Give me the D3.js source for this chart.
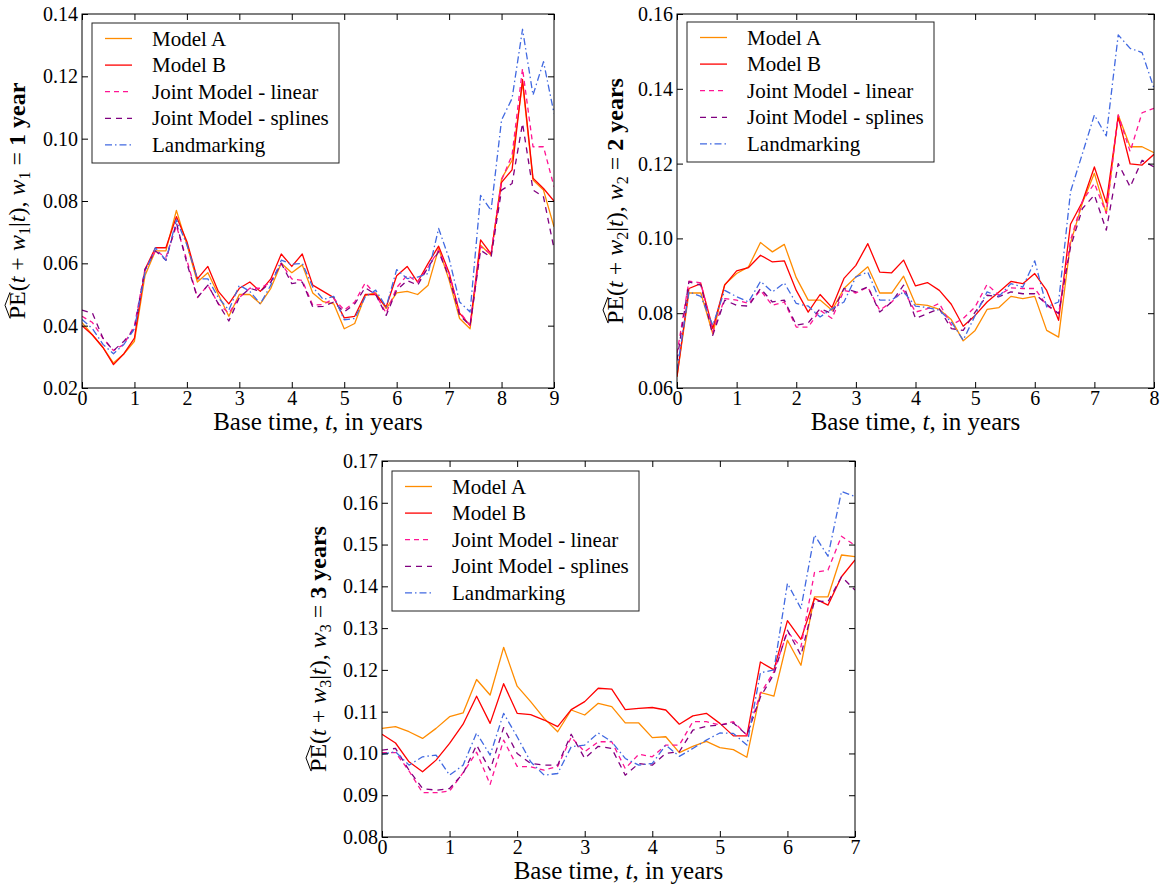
<!DOCTYPE html>
<html>
<head>
<meta charset="utf-8">
<script src="https://cdn.jsdelivr.net/npm/d3@7"></script>
<style>
  body { margin: 0; background: #fff; }
  svg { display: block; }
  text { font-family: "Liberation Serif", "DejaVu Serif", serif; fill: #000; }
</style>
</head>
<body>
<div id="chart"></div>
<script>
// Base times (years)
const t1 = [0,0.2,0.4,0.6,0.8,1,1.2,1.4,1.6,1.8,2,2.2,2.4,2.6,2.8,3,3.2,3.4,3.6,3.8,4,4.2,4.4,4.6,4.8,5,5.2,5.4,5.6,5.8,6,6.2,6.4,6.6,6.8,7,7.2,7.4,7.6,7.8,8,8.2,8.4,8.6,8.8,9];
const t2 = [0,0.2,0.4,0.6,0.8,1,1.2,1.4,1.6,1.8,2,2.2,2.4,2.6,2.8,3,3.2,3.4,3.6,3.8,4,4.2,4.4,4.6,4.8,5,5.2,5.4,5.6,5.8,6,6.2,6.4,6.6,6.8,7,7.2,7.4,7.6,7.8,8];
const t3 = [0,0.2,0.4,0.6,0.8,1,1.2,1.4,1.6,1.8,2,2.2,2.4,2.6,2.8,3,3.2,3.4,3.6,3.8,4,4.2,4.4,4.6,4.8,5,5.2,5.4,5.6,5.8,6,6.2,6.4,6.6,6.8,7];

const seriesNames = ["Model A", "Model B", "Joint Model - linear", "Joint Model - splines", "Landmarking"];

// w1 = 1 year
const modelA1 = [0.041,0.037,0.033,0.028,0.031,0.035,0.056,0.064,0.064,0.077,0.066,0.054,0.057,0.050,0.043,0.050,0.050,0.047,0.052,0.060,0.057,0.0595,0.0505,0.0477,0.047,0.039,0.0407,0.0497,0.0505,0.0455,0.0505,0.051,0.050,0.053,0.0647,0.0546,0.0423,0.039,0.0658,0.0626,0.0872,0.093,0.118,0.0867,0.0835,0.0717];
const modelB1 = [0.040,0.037,0.033,0.0275,0.031,0.036,0.058,0.065,0.065,0.075,0.067,0.055,0.059,0.051,0.047,0.052,0.054,0.051,0.055,0.063,0.059,0.063,0.053,0.051,0.049,0.0425,0.043,0.050,0.050,0.046,0.056,0.059,0.054,0.060,0.0655,0.057,0.044,0.040,0.0675,0.063,0.086,0.090,0.119,0.0873,0.084,0.080];
const jmLin1 = [0.043,0.041,0.036,0.032,0.034,0.040,0.058,0.064,0.062,0.072,0.061,0.049,0.053,0.047,0.044,0.049,0.052,0.052,0.054,0.060,0.055,0.0545,0.0466,0.0468,0.0487,0.045,0.0476,0.0537,0.050,0.044,0.0522,0.0562,0.054,0.0588,0.0642,0.0567,0.0444,0.0401,0.0653,0.0631,0.0867,0.0947,0.1225,0.0974,0.0974,0.0846];
const jmSpl1 = [0.045,0.044,0.036,0.032,0.035,0.039,0.058,0.064,0.061,0.073,0.060,0.049,0.053,0.047,0.0415,0.049,0.052,0.051,0.054,0.060,0.0535,0.054,0.046,0.0462,0.0476,0.0444,0.047,0.0522,0.050,0.0433,0.0514,0.0545,0.053,0.0588,0.0637,0.0556,0.0433,0.0401,0.0642,0.062,0.0835,0.0856,0.1049,0.0835,0.0813,0.0647];
const landm1 = [0.042,0.039,0.034,0.031,0.034,0.039,0.057,0.065,0.061,0.074,0.066,0.055,0.055,0.049,0.045,0.053,0.051,0.047,0.053,0.061,0.0597,0.060,0.0524,0.0484,0.0494,0.0419,0.0423,0.0492,0.0514,0.046,0.058,0.0551,0.0556,0.0567,0.0712,0.0615,0.0476,0.0444,0.0818,0.077,0.106,0.1129,0.1351,0.114,0.1247,0.1081];

// w2 = 2 years
const modelA2 = [0.063,0.0854,0.0854,0.0745,0.0877,0.0906,0.0924,0.0989,0.0964,0.0984,0.0895,0.0835,0.0835,0.0808,0.0866,0.0897,0.0924,0.0854,0.0854,0.0899,0.0824,0.0821,0.081,0.0783,0.0726,0.0754,0.081,0.0815,0.0845,0.0839,0.0845,0.0754,0.0736,0.0988,0.1095,0.1174,0.1067,0.133,0.1245,0.1245,0.1229];
const modelB2 = [0.063,0.0866,0.0879,0.0759,0.0875,0.0913,0.0922,0.0955,0.0937,0.094,0.0861,0.0803,0.085,0.0815,0.0893,0.0928,0.0986,0.091,0.0908,0.0942,0.0873,0.0882,0.0861,0.0824,0.0765,0.0794,0.083,0.0857,0.0885,0.0879,0.0906,0.0861,0.0781,0.1038,0.1098,0.1191,0.1095,0.1325,0.1199,0.1196,0.1225];
const jmLin2 = [0.0692,0.0886,0.0881,0.075,0.0839,0.0835,0.0826,0.0861,0.0821,0.083,0.0763,0.0763,0.0808,0.0786,0.0861,0.0854,0.087,0.0808,0.083,0.0861,0.0803,0.0812,0.0826,0.0768,0.0786,0.0817,0.0877,0.0848,0.0868,0.0866,0.0866,0.0821,0.0799,0.0995,0.11,0.1147,0.1067,0.133,0.1232,0.1336,0.1348];
const jmSpl2 = [0.0674,0.0884,0.0875,0.0741,0.0835,0.0821,0.0819,0.0866,0.083,0.0835,0.0768,0.0774,0.0812,0.0799,0.0866,0.0857,0.087,0.0803,0.083,0.0875,0.0786,0.0799,0.0812,0.0759,0.0754,0.0803,0.0848,0.0844,0.0857,0.0852,0.0852,0.0824,0.0799,0.0977,0.108,0.1116,0.1022,0.12,0.1138,0.1209,0.1191];
const landm2 = [0.0647,0.0857,0.0845,0.0768,0.0861,0.0844,0.083,0.0885,0.0857,0.0881,0.0826,0.0819,0.079,0.0812,0.083,0.0897,0.091,0.0835,0.0835,0.0857,0.0819,0.0815,0.0808,0.0777,0.0728,0.0794,0.0857,0.0845,0.0879,0.087,0.094,0.0817,0.083,0.1125,0.1227,0.133,0.1274,0.1544,0.1508,0.1497,0.1401];

// w3 = 3 years
const modelA3 = [0.106,0.1064,0.1052,0.1036,0.106,0.1088,0.1097,0.1177,0.114,0.1254,0.1161,0.1124,0.1084,0.1052,0.1104,0.1092,0.112,0.1112,0.1073,0.1073,0.1038,0.104,0.1002,0.1017,0.1029,0.1014,0.1009,0.0991,0.1146,0.1137,0.1271,0.1211,0.1375,0.1375,0.1475,0.1471];
const modelB3 = [0.1046,0.1025,0.098,0.0956,0.0984,0.1024,0.107,0.1137,0.1072,0.1167,0.1096,0.1093,0.108,0.1064,0.1105,0.1124,0.1156,0.1154,0.1105,0.1108,0.111,0.1104,0.107,0.109,0.1096,0.1072,0.1042,0.1042,0.1219,0.12,0.1318,0.1273,0.1371,0.1355,0.1423,0.1463];
const jmLin3 = [0.1002,0.1002,0.0958,0.0906,0.0906,0.091,0.0954,0.1003,0.0926,0.1032,0.0969,0.0968,0.096,0.0969,0.1039,0.1004,0.1028,0.1028,0.0964,0.0998,0.0992,0.102,0.102,0.1076,0.1076,0.1068,0.1076,0.1044,0.1143,0.1196,0.1291,0.1255,0.1433,0.1439,0.152,0.1498];
const jmSpl3 = [0.1008,0.1012,0.096,0.0916,0.0912,0.0916,0.0952,0.102,0.096,0.1062,0.10,0.0976,0.0972,0.0972,0.1046,0.0988,0.1017,0.1012,0.0948,0.0976,0.0972,0.1,0.1004,0.1056,0.1065,0.1068,0.1073,0.1044,0.1135,0.119,0.1295,0.1235,0.1365,0.1363,0.1423,0.1391];
const landm3 = [0.0998,0.1004,0.0972,0.0992,0.0996,0.0948,0.0972,0.1049,0.0996,0.1096,0.104,0.098,0.0948,0.0952,0.1016,0.102,0.1049,0.1028,0.0988,0.0972,0.0976,0.102,0.0993,0.1012,0.1032,0.1049,0.1048,0.102,0.1193,0.12,0.1407,0.1347,0.1523,0.1472,0.1627,0.1615];

// line styles per series
const styles = [
  { color: "#ff8c00", dash: null, width: 1.3 },
  { color: "#ff0000", dash: null, width: 1.3 },
  { color: "#ff1493", dash: "5,4", width: 1.3 },
  { color: "#800080", dash: "6,5", width: 1.3 },
  { color: "#4169e1", dash: "7,3,1.5,3", width: 1.3 }
];

const width = 1162, height = 884;

const svg = d3.select("#chart").append("svg")
  .attr("width", width)
  .attr("height", height);

svg.append("rect").attr("width", width).attr("height", height).attr("fill", "#fff");

const panels = [
  { left: 82, right: 554, top: 14, bottom: 388, xMax: 9, yMin: 0.02, yMax: 0.14, yStep: 0.02,
    t: t1, values: [modelA1, modelB1, jmLin1, jmSpl1, landm1], sub: "1", years: "1 year",
    legend: { x: 92, y: 23, w: 247, h: 140 }, yLabX: 25 },
  { left: 677, right: 1154, top: 14, bottom: 388, xMax: 8, yMin: 0.06, yMax: 0.16, yStep: 0.02,
    t: t2, values: [modelA2, modelB2, jmLin2, jmSpl2, landm2], sub: "2", years: "2 years",
    legend: { x: 687, y: 22, w: 247, h: 140 }, yLabX: 623 },
  { left: 382, right: 855, top: 461, bottom: 837, xMax: 7, yMin: 0.08, yMax: 0.17, yStep: 0.01,
    t: t3, values: [modelA3, modelB3, jmLin3, jmSpl3, landm3], sub: "3", years: "3 years",
    legend: { x: 392, y: 471, w: 247, h: 140 }, yLabX: 326 }
];

panels.forEach((p, pi) => {
  const x = d3.scaleLinear().domain([0, p.xMax]).range([p.left, p.right]);
  const y = d3.scaleLinear().domain([p.yMin, p.yMax]).range([p.bottom, p.top]);
  const g = svg.append("g");

  const clipId = "clip" + pi;
  svg.append("clipPath").attr("id", clipId).append("rect")
    .attr("x", p.left).attr("y", p.top)
    .attr("width", p.right - p.left).attr("height", p.bottom - p.top);

  // lines
  const line = d3.line().x(d => x(d[0])).y(d => y(d[1]));
  const lines = g.append("g").attr("clip-path", `url(#${clipId})`);
  p.values.forEach((vals, si) => {
    const st = styles[si];
    lines.append("path")
      .datum(p.t.map((tt, i) => [tt, vals[i]]))
      .attr("d", line)
      .attr("fill", "none")
      .attr("stroke", st.color)
      .attr("stroke-width", st.width)
      .attr("stroke-dasharray", st.dash)
      .attr("stroke-linejoin", "round");
  });

  // frame
  g.append("rect")
    .attr("x", p.left).attr("y", p.top)
    .attr("width", p.right - p.left).attr("height", p.bottom - p.top)
    .attr("fill", "none").attr("stroke", "#000").attr("stroke-width", 1);

  // ticks (inward, all four sides)
  const nY = Math.round((p.yMax - p.yMin) / p.yStep);
  const yTicks = d3.range(nY + 1).map(i => p.yMin + i * p.yStep);
  const xTicks = d3.range(p.xMax + 1);
  const tl = 6;

  const axL = d3.axisLeft(y).tickValues(yTicks).tickSize(-tl).tickPadding(4).tickFormat(d3.format(".2f"));
  const axR = d3.axisRight(y).tickValues(yTicks).tickSize(-tl).tickFormat("");
  const axB = d3.axisBottom(x).tickValues(xTicks).tickSize(-tl).tickPadding(3).tickFormat(d3.format("d"));
  const axT = d3.axisTop(x).tickValues(xTicks).tickSize(-tl).tickFormat("");

  const aL = g.append("g").attr("transform", `translate(${p.left},0)`).call(axL);
  const aR = g.append("g").attr("transform", `translate(${p.right},0)`).call(axR);
  const aB = g.append("g").attr("transform", `translate(0,${p.bottom})`).call(axB);
  const aT = g.append("g").attr("transform", `translate(0,${p.top})`).call(axT);
  [aL, aR, aB, aT].forEach(a => {
    a.select(".domain").remove();
    a.selectAll(".tick line").attr("stroke", "#000");
    a.selectAll(".tick text").attr("font-size", 20).attr("font-family", "'Liberation Serif', serif");
  });

  // x label
  g.append("text")
    .attr("x", (p.left + p.right) / 2)
    .attr("y", p.bottom + 42)
    .attr("text-anchor", "middle")
    .attr("font-size", 25)
    .html('Base time, <tspan font-style="italic">t</tspan>, in years');

  // y label (rotated)
  const yg = g.append("g")
    .attr("transform", `translate(${p.yLabX},${(p.top + p.bottom) / 2}) rotate(-90)`);
  const yl = yg.append("text")
    .attr("x", 0).attr("y", 0)
    .attr("text-anchor", "middle")
    .attr("font-size", 24);
  yl.append("tspan").text("PE(");
  yl.append("tspan").attr("font-style", "italic").text("t");
  yl.append("tspan").text(" + ");
  yl.append("tspan").attr("font-style", "italic").text("w");
  yl.append("tspan").attr("font-size", 16).attr("dy", 5).text(p.sub);
  yl.append("tspan").attr("dy", -5).text("|");
  yl.append("tspan").attr("font-style", "italic").text("t");
  yl.append("tspan").text("), ");
  yl.append("tspan").attr("font-style", "italic").text("w");
  yl.append("tspan").attr("font-size", 16).attr("dy", 5).text(p.sub);
  yl.append("tspan").attr("dy", -5).text(" = ");
  yl.append("tspan").attr("font-weight", "bold").text(p.years);

  // wide hat above "PE"
  const node = yl.node();
  const s = node.getStartPositionOfChar(0);
  const e = node.getEndPositionOfChar(1);
  const hy = s.y - 19;
  yg.append("path")
    .attr("d", `M${s.x + 1},${hy + 4} L${(s.x + e.x) / 2},${hy - 1} L${e.x - 1},${hy + 4}`)
    .attr("fill", "none").attr("stroke", "#000").attr("stroke-width", 1);

  // legend
  const L = p.legend;
  const lg = g.append("g").attr("transform", `translate(${L.x},${L.y})`);
  lg.append("rect")
    .attr("width", L.w).attr("height", L.h)
    .attr("fill", "#fff").attr("stroke", "#222").attr("stroke-width", 1);
  seriesNames.forEach((name, si) => {
    const st = styles[si];
    const ry = 15.5 + si * 26.6;
    lg.append("line")
      .attr("x1", 13).attr("x2", 40).attr("y1", ry).attr("y2", ry)
      .attr("stroke", st.color).attr("stroke-width", st.width)
      .attr("stroke-dasharray", st.dash);
    lg.append("text")
      .attr("x", 60).attr("y", ry + 7)
      .attr("font-size", 21)
      .text(name);
  });
});
</script>
</body>
</html>
